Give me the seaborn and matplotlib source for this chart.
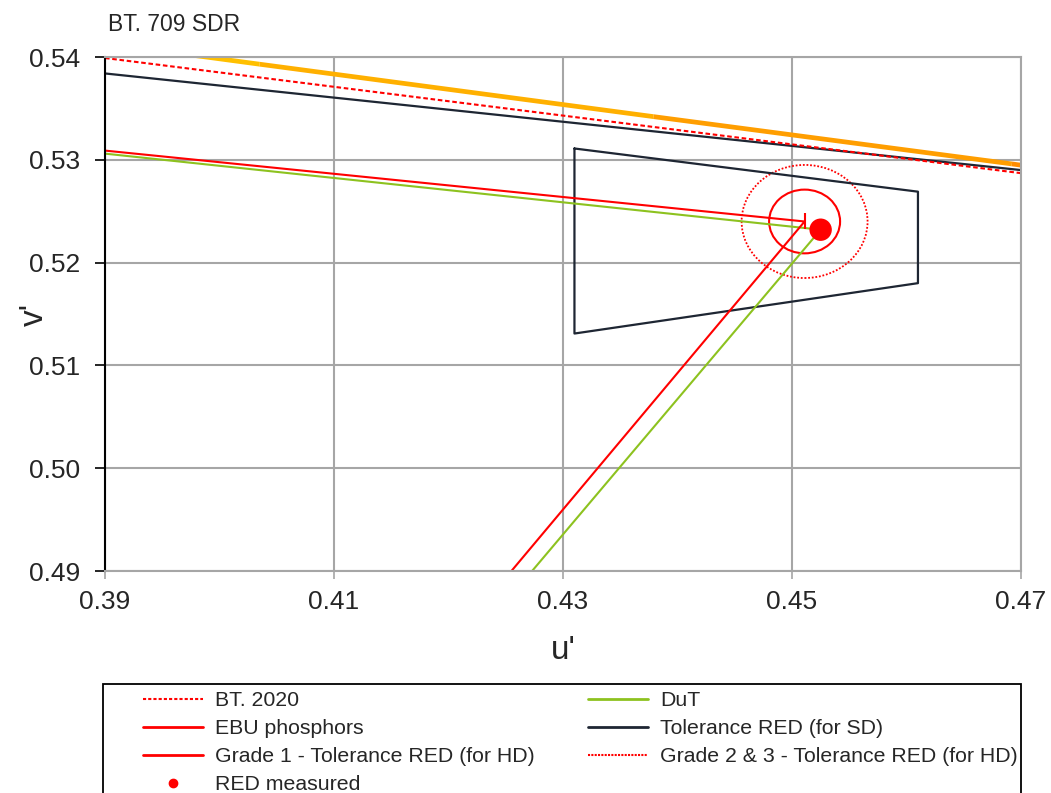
import matplotlib
matplotlib.use("Agg")
import matplotlib.pyplot as plt
from matplotlib.lines import Line2D
from matplotlib.patches import Circle, Rectangle
import numpy as np
import pandas as pd
import seaborn as sns

sns.set_style("white")
plt.rcParams['font.family'] = ['Liberation Sans', 'DejaVu Sans']

###################################
# colours
red = "#FF0000"
green = "#8DC21F"
navy = "#1E2633"
grid_grey = "#A6A6A6"
locus_colors = ["#FFC000", "#FFB000", "#FF9E00", "#FF8C00"]
###################################

# spectrum locus (595 - 615 nm)
locus_u = [0.3681, 0.4035, 0.4379, 0.4692, 0.4968]
locus_v = [0.5446, 0.5393, 0.5342, 0.5296, 0.5254]

# dark line at the top
top_u = [0.39, 0.47]
top_v = [0.5384, 0.5290]

# BT. 2020 red-green edge
bt2020_u = [0.39, 0.47]
bt2020_v = [0.5399, 0.5287]

# EBU phosphors (G, R, B)
ebu_u = [0.1206, 0.4511, 0.1754]
ebu_v = [0.5613, 0.5240, 0.1579]

# device under test
dut_u = [0.39, 0.4525, 0.4273]
dut_v = [0.5306, 0.5232, 0.4900]

# tolerance RED for SD
tol_u = [0.431, 0.461, 0.461, 0.431, 0.431]
tol_v = [0.5311, 0.5269, 0.5180, 0.5131, 0.5311]

# HD tolerance circles around EBU red
hd_center = (0.4511, 0.5240)
grade1_radius = 0.0031
grade23_radius = 0.0055

# measured red
meas_u = [0.4525]
meas_v = [0.5232]

xticks = [0.39, 0.41, 0.43, 0.45, 0.47]
yticks = [0.49, 0.50, 0.51, 0.52, 0.53, 0.54]

labels = ["BT. 2020", "EBU phosphors", "Grade 1 - Tolerance RED (for HD)",
          "RED measured", "DuT", "Tolerance RED (for SD)",
          "Grade 2 & 3 - Tolerance RED (for HD)"]

fig = plt.figure(figsize=(10.51, 7.93), dpi=100)
ax = fig.add_axes([105 / 1051, 1 - 571 / 793, 916 / 1051, 514 / 793])

# spectrum locus, one segment per colour
for i in range(len(locus_u) - 1):
    sns.lineplot(x=locus_u[i:i + 2], y=locus_v[i:i + 2], sort=False, estimator=None,
                 color=locus_colors[i], lw=3.4, ax=ax, legend=False,
                 solid_capstyle='butt')

sns.lineplot(x=top_u, y=top_v, sort=False, estimator=None, color=navy, lw=1.6,
             ax=ax, legend=False)
sns.lineplot(x=bt2020_u, y=bt2020_v, sort=False, estimator=None, color=red, lw=1.5,
             ax=ax, legend=False, linestyle=(0, (2.2, 1.3)))
sns.lineplot(x=tol_u, y=tol_v, sort=False, estimator=None, color=navy, lw=1.6,
             ax=ax, legend=False)
sns.lineplot(x=dut_u, y=dut_v, sort=False, estimator=None, color=green, lw=1.5,
             ax=ax, legend=False)
sns.lineplot(x=ebu_u, y=ebu_v, sort=False, estimator=None, color=red, lw=1.5,
             ax=ax, legend=False)
ax.plot([ebu_u[1]], [ebu_v[1]], marker='|', markersize=11, mew=1.5, color=red)

ax.add_patch(Circle(hd_center, grade1_radius, fill=False, edgecolor=red, lw=1.5))
ax.add_patch(Circle(hd_center, grade23_radius, fill=False, edgecolor=red, lw=1.3,
                    linestyle=(0, (1, 1))))

sns.scatterplot(x=meas_u, y=meas_v, color=red, s=260, edgecolor='none', ax=ax,
                legend=False, zorder=5)

ax.set_xlim(0.39, 0.47)
ax.set_ylim(0.49, 0.54)
ax.set_xticks(xticks)
ax.set_yticks(yticks)
ax.set_xticklabels([f"{t:.2f}" for t in xticks])
ax.set_yticklabels([f"{t:.2f}" for t in yticks])
ax.grid(True, color=grid_grey, lw=1.5)
ax.set_axisbelow(True)
for side in ['top', 'right', 'bottom']:
    ax.spines[side].set_color(grid_grey)
    ax.spines[side].set_linewidth(1.5)
ax.spines['left'].set_color('black')
ax.spines['left'].set_linewidth(1.5)
ax.tick_params(axis='y', direction='out', length=7, width=1.2, color='black',
               pad=11, labelsize=19, left=True)
ax.tick_params(axis='x', direction='out', length=6, width=1.2, color=grid_grey,
               pad=8, labelsize=19, bottom=True)
ax.set_xlabel("u'", fontsize=24, labelpad=15)
ax.set_ylabel("v'", fontsize=24)
ax.yaxis.set_label_coords(-0.06, 0.5)

fig.text(108 / 1051, 1 - 31 / 793, "BT. 709 SDR", fontsize=16.5, va='baseline')

handles = [
    Line2D([], [], color=red, lw=1.5, linestyle=(0, (1.5, 1))),
    Line2D([], [], color=red, lw=2),
    Line2D([], [], color=red, lw=2),
    Line2D([], [], color=red, lw=0, marker='o', markersize=6),
    Line2D([], [], color=green, lw=2),
    Line2D([], [], color=navy, lw=2),
    Line2D([], [], color=red, lw=1.5, linestyle=(0, (1, 0.6))),
]
fig.legend(handles, labels, loc='upper left', ncol=2, frameon=False,
           bbox_to_anchor=(143 / 1051, 1 - 691 / 793), fontsize=15.3,
           handlelength=2.8, handletextpad=0.6, columnspacing=2.5,
           labelspacing=0.43, borderpad=0, borderaxespad=0)
fig.add_artist(Rectangle((103 / 1051, -0.05), 918 / 1051, 1 - 684 / 793 + 0.05,
                         transform=fig.transFigure, fill=False,
                         edgecolor='black', lw=1.3))

plt.savefig("out.png", dpi=100)
